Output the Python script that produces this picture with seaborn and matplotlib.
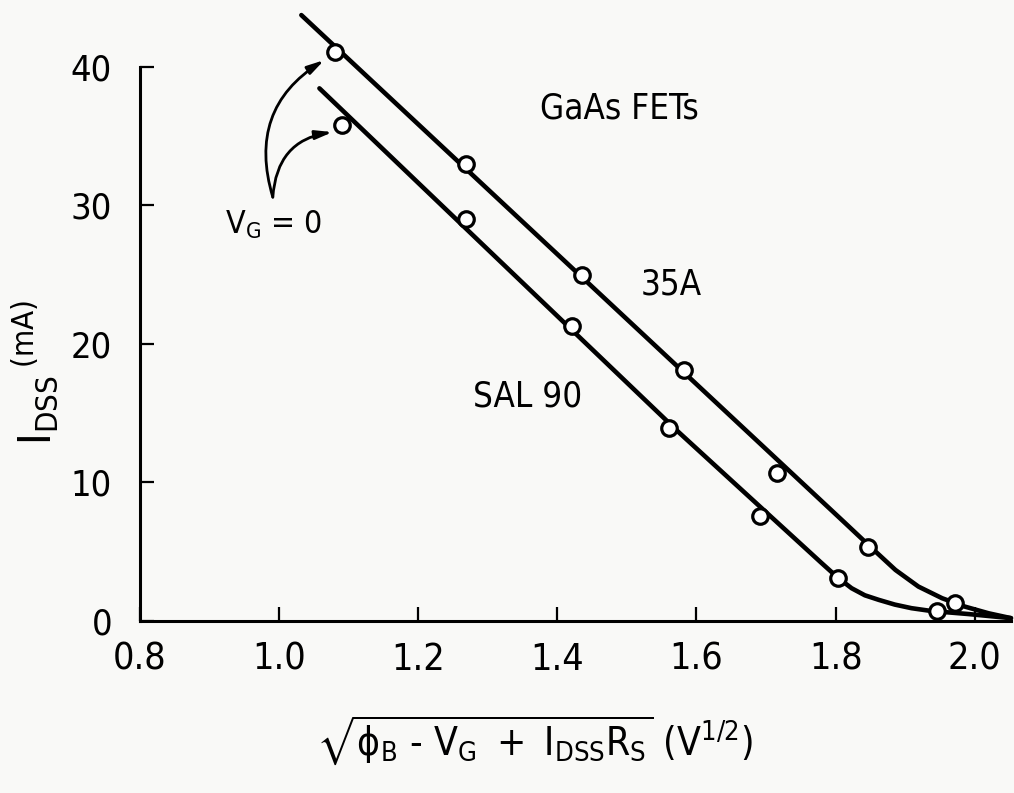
import matplotlib
matplotlib.use("Agg")
import matplotlib.pyplot as plt
from matplotlib import font_manager as fm
import seaborn as sns
import pandas as pd

# ---- data ----
x_35a = [1.081, 1.268, 1.436, 1.582, 1.716, 1.847, 1.972]
y_35a = [41.1, 33.0, 25.0, 18.1, 10.66, 5.32, 1.32]
x_sal = [1.091, 1.268, 1.421, 1.560, 1.691, 1.803, 1.945]
y_sal = [35.8, 29.0, 21.3, 13.9, 7.6, 3.13, 0.72]

# drawn curves (vertices)
cx_35a = [1.032, 1.814, 1.850, 1.886, 1.919, 1.953, 1.986, 2.02, 2.052]
cy_35a = [43.75, 7.05, 5.35, 3.68, 2.48, 1.64, 1.03, 0.55, 0.2]
cx_sal = [1.058, 1.575, 1.780, 1.803, 1.823, 1.842, 1.862, 1.885,
          1.909, 1.937, 1.99, 2.052]
cy_sal = [38.46, 13.6, 4.17, 3.13, 2.36, 1.85, 1.52, 1.18,
          0.92, 0.72, 0.5, 0.2]

x_ticks = [0.8, 1.0, 1.2, 1.4, 1.6, 1.8, 2.0]
x_tick_labels = ["0.8", "1.0", "1.2", "1.4", "1.6", "1.8", "2.0"]
y_ticks = [0, 10, 20, 30, 40]
y_tick_labels = ["0", "10", "20", "30", "40"]

BG = "#f9f9f7"

# find a condensed sans font if one is installed
def pick_condensed():
    prefs = ["liberationsansnarrow-regular", "dejavusanscondensed.ttf",
             "robotocondensed-regular", "opensans_condensed-regular",
             "notosans-condensed.ttf", "notosanscondensed-regular"]
    files = [f for f in fm.fontManager.ttflist]
    for p in prefs:
        for f in files:
            if p in f.fname.lower().replace(" ", ""):
                return f
    for f in files:
        fn = f.fname.lower()
        if ("narrow" in fn or "condensed" in fn) and not any(
                k in fn for k in ("bold", "oblique", "italic", "light", "semi", "black", "medium", "thin")):
            return f
    return None

cf = pick_condensed()

sns.set_style("ticks")
if cf is not None:
    plt.rcParams["font.family"] = [cf.name, "DejaVu Sans"]
    plt.rcParams["font.stretch"] = cf.stretch
    mfont = f"{cf.name}:stretch={cf.stretch}"
else:
    plt.rcParams["font.family"] = ["DejaVu Sans"]
    mfont = "DejaVu Sans"
plt.rcParams["mathtext.fontset"] = "custom"
plt.rcParams["mathtext.rm"] = mfont
plt.rcParams["mathtext.it"] = mfont
plt.rcParams["mathtext.bf"] = mfont
plt.rcParams["mathtext.sf"] = mfont
plt.rcParams["mathtext.fallback"] = "stixsans"
plt.rcParams["mathtext.default"] = "regular"
for k in ("text.color", "axes.labelcolor", "xtick.color", "ytick.color"):
    plt.rcParams[k] = "black"

fig = plt.figure(figsize=(10.14, 7.93), dpi=100, facecolor=BG)
ax = fig.add_axes([0.138, 0.217, 0.859, 0.6985])
ax.set_facecolor(BG)

curves = pd.concat([
    pd.DataFrame({"x": cx_35a, "y": cy_35a, "s": "35A"}),
    pd.DataFrame({"x": cx_sal, "y": cy_sal, "s": "SAL 90"}),
])
pts = pd.concat([
    pd.DataFrame({"x": x_35a, "y": y_35a, "s": "35A"}),
    pd.DataFrame({"x": x_sal, "y": y_sal, "s": "SAL 90"}),
])

sns.lineplot(data=curves, x="x", y="y", units="s", estimator=None, sort=False,
             color="black", linewidth=3.3, ax=ax, legend=False)
for line in ax.lines:
    line.set_clip_on(False)
    line.set_solid_capstyle("round")
    line.set_solid_joinstyle("round")

sns.scatterplot(data=pts, x="x", y="y", marker="o", s=125, facecolor="white",
                edgecolor="black", linewidth=2.3, ax=ax, legend=False, zorder=5,
                clip_on=False)

ax.set_xlim(0.8, 2.052)
ax.set_ylim(0, 40)
ax.set_xticks(x_ticks)
ax.set_xticklabels(x_tick_labels, fontsize=27)
ax.set_yticks(y_ticks)
ax.set_yticklabels(y_tick_labels, fontsize=26)
ax.tick_params(axis="both", direction="in", length=10, width=1.6, color="black",
               labelcolor="black")
ax.tick_params(axis="x", pad=15)
ax.tick_params(axis="y", pad=20)
sns.despine(ax=ax)
for sp in ("left", "bottom"):
    ax.spines[sp].set_linewidth(2.2)
    ax.spines[sp].set_color("black")
ax.set_xlabel("")
ax.set_ylabel("")

# annotations
ax.text(1.489, 37.0, "GaAs FETs", fontsize=25, ha="center", va="center")
ax.text(1.563, 24.3, "35A", fontsize=25, ha="center", va="center")
ax.text(1.357, 16.2, "SAL 90", fontsize=25, ha="center", va="center")
ax.text(0.922, 28.0, r"$V_G$ = 0", fontsize=23, ha="left", va="baseline")

arrow_kw = dict(arrowstyle="-|>,head_length=1.0,head_width=0.26", color="black",
                linewidth=2.0, shrinkA=0, shrinkB=0)
ax.annotate("", xy=(1.065, 40.5), xytext=(0.991, 30.6), annotation_clip=False,
            arrowprops=dict(connectionstyle="arc3,rad=-0.38", **arrow_kw))
ax.annotate("", xy=(1.077, 35.3), xytext=(0.991, 30.6), annotation_clip=False,
            arrowprops=dict(connectionstyle="arc3,rad=-0.4", **arrow_kw))

# axis titles
fig.text(0.035, 1 - 372 / 793, r"$I_{DSS}\,{}^{(mA)}$", rotation=90,
         fontsize=32, ha="center", va="center")
fig.text(0.527, 1 - 740 / 793,
         r"$\sqrt{\phi_B\ \text{-}\ V_G\ +\ I_{DSS}R_S}\ (V^{1/2})$",
         fontsize=28, ha="center", va="center")

fig.savefig("out.png", dpi=100, facecolor=BG)
